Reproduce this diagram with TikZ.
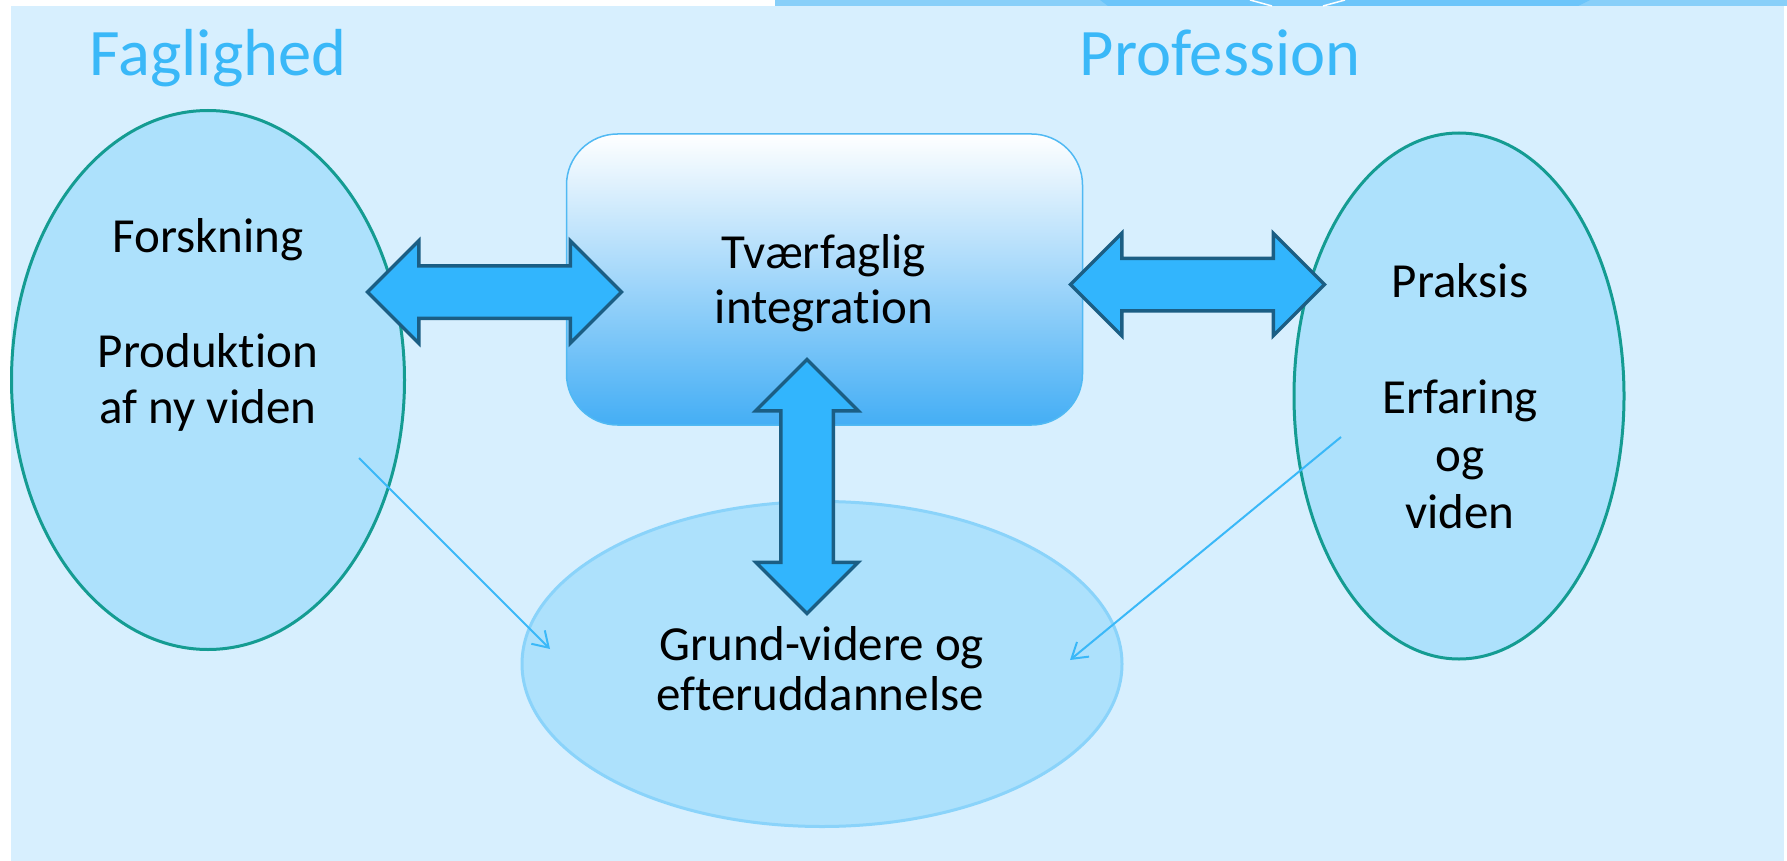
\documentclass[tikz,border=0pt]{standalone}
\usepackage{fontspec}
\setmainfont{Carlito}[Ligatures=NoCommon]
\usepackage{xcolor}
\usepackage{tikz}
\usetikzlibrary{shapes.geometric,shapes.arrows,arrows.meta,positioning}

\definecolor{panelblue}{RGB}{215,239,254}
\definecolor{ovalblue}{RGB}{173,225,252}
\definecolor{ovalteal}{RGB}{20,156,146}
\definecolor{ovallight}{RGB}{138,211,250}
\definecolor{titleblue}{RGB}{58,184,248}
\definecolor{arrowfill}{RGB}{50,181,253}
\definecolor{arrowdark}{RGB}{27,94,132}
\definecolor{boxmid}{RGB}{160,214,252}
\definecolor{boxbottom}{RGB}{68,174,245}
\definecolor{boxline}{RGB}{80,185,243}
\definecolor{stripblue}{RGB}{136,207,249}
\definecolor{stripdark}{RGB}{108,197,250}

\begin{document}
\begin{tikzpicture}[x=1pt,y=-1pt,
    oval/.style={ellipse,draw=ovalteal,line width=3pt,fill=ovalblue,inner sep=0pt},
    body text/.style={font=\fontsize{49}{57}\selectfont,anchor=base,inner sep=0pt},
    title text/.style={font=\fontsize{66.5}{70}\selectfont,text=titleblue,anchor=base,inner sep=0pt},
    big arrow/.style={double arrow,draw=arrowdark,line width=3.5pt,fill=arrowfill,
      inner xsep=0pt,inner ysep=24.5pt,double arrow head extend=25pt,
      double arrow tip angle=90,minimum height=254pt},
    thin arrow/.style={-{Straight Barb[length=15pt,width=19pt]},draw=titleblue,line width=2pt}]

  \useasboundingbox (0,0) rectangle (1787,861);
  \fill[white] (0,0) rectangle (1787,861);

%BACKGROUND
  \fill[panelblue] (11,6) rectangle (1784,861);
  \fill[stripblue] (775,0) rectangle (1787,6);
  \fill[stripdark] (1100,0) -- (1590,0) -- (1578,6) -- (1108,6) -- cycle;
  \draw[white,line width=1.5pt] (1250,0) -- (1272,6) (1345,0) -- (1323,6);

%TITLES
  \node[title text] (faglighed) at (218,76) {Faglighed};
  \node[title text] (profession) at (1220,76) {Profession};

%DRAWING OVALS
  \node[oval,minimum width=393pt,minimum height=539pt] (fagOval) at (208,380) {};
  \node[oval,minimum width=330pt,minimum height=526pt] (profOval) at (1459,396) {};
  \node[oval,draw=ovallight,minimum width=600pt,minimum height=325pt] (uddOval) at (822,664) {};

%DRAWING CENTER BOX
  \node[rectangle,rounded corners=51pt,draw=boxline,line width=1.5pt,
        top color=white,middle color=boxmid,bottom color=boxbottom,
        minimum width=516pt,minimum height=291pt] (tvaerBox) at (824.5,279.5) {};

%DRAWING BIG ARROWS
  \node[big arrow] (fagArrow) at (494.5,292) {};
  \node[big arrow] (profArrow) at (1197.5,284.5) {};
  \node[big arrow,rotate=90] (uddArrow) at (807,486.5) {};

%DRAWING THIN ARROWS
  \coordinate (fagStart) at (359,458);
  \coordinate (fagEnd) at (550,649);
  \coordinate (profStart) at (1341,437);
  \coordinate (profEnd) at (1070,660);
  \draw[thin arrow] (fagStart) -- (fagEnd);
  \draw[thin arrow] (profStart) -- (profEnd);

%TEXTS
  \node[body text] (forskning) at (208,252) {Forskning};
  \node[body text] (produktion) at (208,367) {Produktion};
  \node[body text] (nyViden) at (208,423) {af ny viden};

  \node[body text] (praksis) at (1460,297) {Praksis};
  \node[body text] (erfaring) at (1460,413) {Erfaring};
  \node[body text] (og) at (1460,471) {og};
  \node[body text] (viden) at (1460,528) {viden};

  \node[body text] (tvaerfaglig) at (824,268) {Tværfaglig};
  \node[body text] (integration) at (824,323) {integration};

  \node[body text] (grund) at (822,660) {Grund-videre og};
  \node[body text] (efter) at (820,710) {efteruddannelse};

\end{tikzpicture}
\end{document}
